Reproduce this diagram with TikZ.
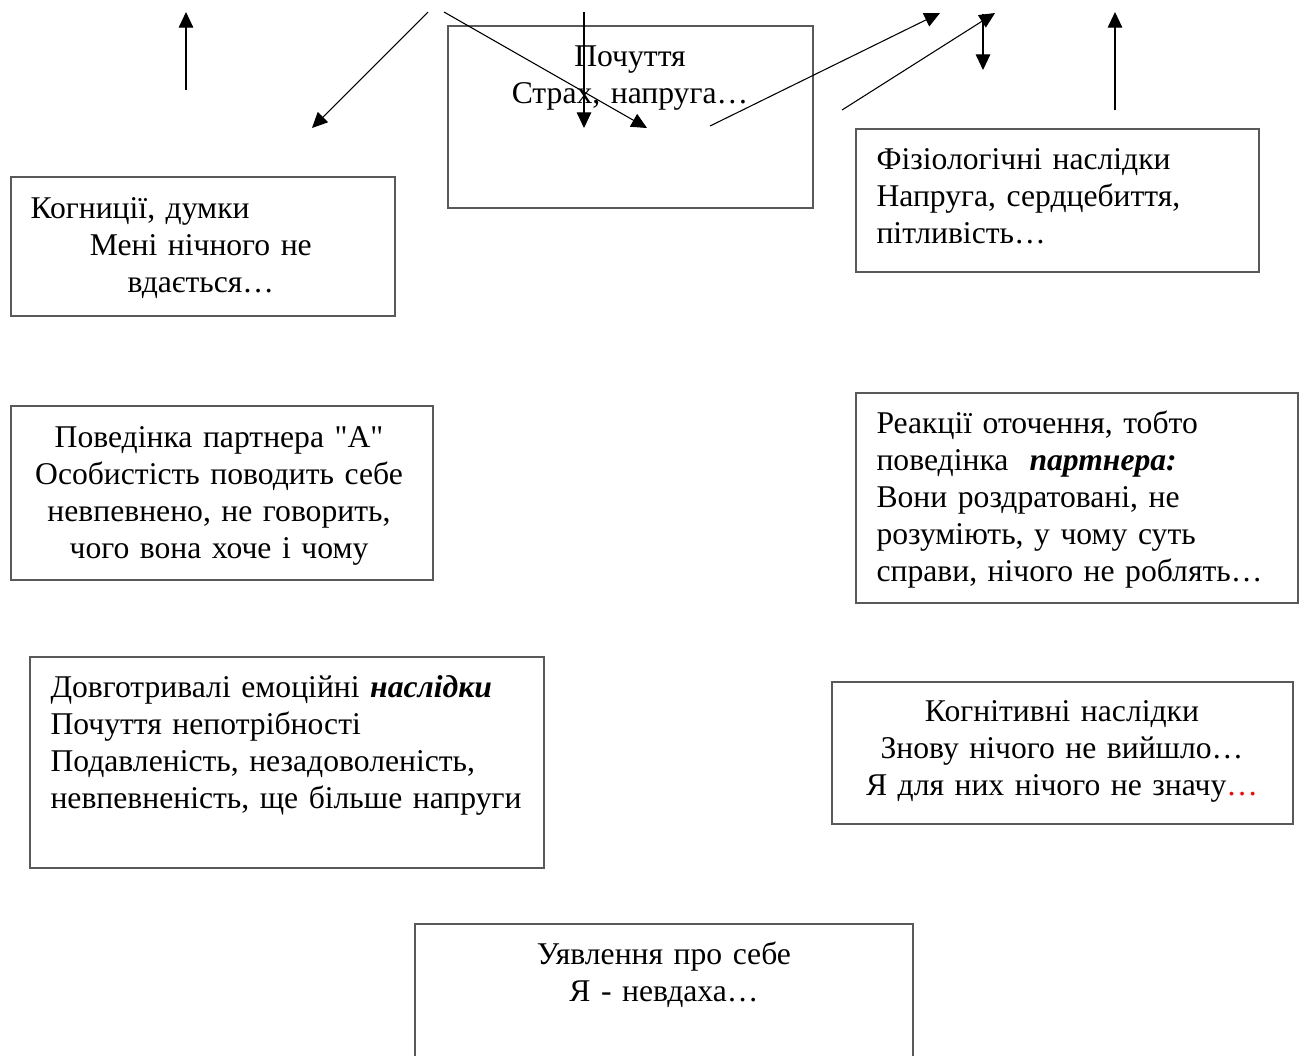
\documentclass[tikz,border=0pt]{standalone}
\usepackage{fontspec}
\setmainfont{Liberation Serif}[Ligatures=TeXOff]
\usetikzlibrary{arrows.meta, fit}

\begin{document}
\begin{tikzpicture}[x=0.0131cm, y=-0.0131cm,
  box/.style={draw=black!65, line width=0.5pt, inner sep=0pt},
  txt/.style={inner sep=0pt, font=\fontsize{11.8}{13.8}\selectfont},
  arr/.style={-{Triangle[length=5.8pt,width=5.4pt]}, line width=0.4pt}]
\useasboundingbox (0,0) rectangle (1307,1055);

\node[box, fit={(448,26) (813,208)}] (feel) {};
\node[box, fit={(11,177) (395,316)}] (cogn) {};
\node[box, fit={(856,129) (1259,272)}] (phys) {};
\node[box, fit={(11,406) (433,580)}] (behav) {};
\node[box, fit={(856,393) (1298,603)}] (react) {};
\node[box, fit={(30,657) (544,868)}] (longem) {};
\node[box, fit={(832,682) (1293,824)}] (cogcons) {};
\node[box, fit={(415,924) (913,1080)}] (self) {};

\node[txt, text width=112pt, align=center, anchor=base] (feelT) at (630,66)
  {Почуття\\Страх, напруга…};
\node[txt, text width=127pt, align=center, anchor=base west] (cognT) at (30,218)
  {\makebox[\linewidth][l]{Когниції, думки}\\Мені нічного не\\вдається…};
\node[txt, text width=140pt, align=left, anchor=base west] (physT) at (876,169)
  {Фізіологічні наслідки\\Напруга, сердцебиття,\\пітливість…};
\node[txt, text width=150pt, align=center, anchor=base] (behavT) at (219,447)
  {Поведінка партнера "А"\\Особистість поводить себе\\невпевнено, не говорить,\\чого вона хоче і чому};
\node[txt, text width=155pt, align=left, anchor=base west] (reactT) at (876,433)
  {Реакції оточення, тобто\\поведінка\ \ \textbf{\textit{партнера:}}\\Вони роздратовані, не\\розуміють, у чому суть\\справи, нічого не роблять…};
\node[txt, text width=185pt, align=left, anchor=base west] (longemT) at (50,697)
  {Довготривалі емоційні \textbf{\textit{наслідки}}\\Почуття непотрібності\\Подавленість, незадоволеність,\\невпевненість, ще більше напруги};
\node[txt, text width=160pt, align=center, anchor=base] (cogconsT) at (1062,721)
  {Когнітивні наслідки\\Знову нічого не вийшло…\\Я для них нічого не значу\textcolor{red}{…}};
\node[txt, text width=170pt, align=center, anchor=base] (selfT) at (664,964)
  {Уявлення про себе\\Я - невдаха…};

\coordinate (a1s) at (186,90);   \coordinate (a1e) at (186,12);
\coordinate (a2s) at (428,12);   \coordinate (a2e) at (312,128);
\coordinate (a3s) at (444,12);   \coordinate (a3e) at (647,128);
\coordinate (a4s) at (584,12);   \coordinate (a4e) at (584,128);
\coordinate (a5s) at (710,126);  \coordinate (a5e) at (940,13);
\coordinate (a6s) at (842,110);  \coordinate (a6e) at (995,13);
\coordinate (a7s) at (983,14);   \coordinate (a7e) at (983,70);
\coordinate (a8s) at (1115,110); \coordinate (a8e) at (1115,12);

\draw[arr] (a1s) -- (a1e);
\draw[arr] (a2s) -- (a2e);
\draw[arr] (a3s) -- (a3e);
\draw[arr] (a4s) -- (a4e);
\draw[arr] (a5s) -- (a5e);
\draw[arr] (a6s) -- (a6e);
\draw[arr] (a7s) -- (a7e);
\draw[arr] (a8s) -- (a8e);
\end{tikzpicture}
\end{document}
